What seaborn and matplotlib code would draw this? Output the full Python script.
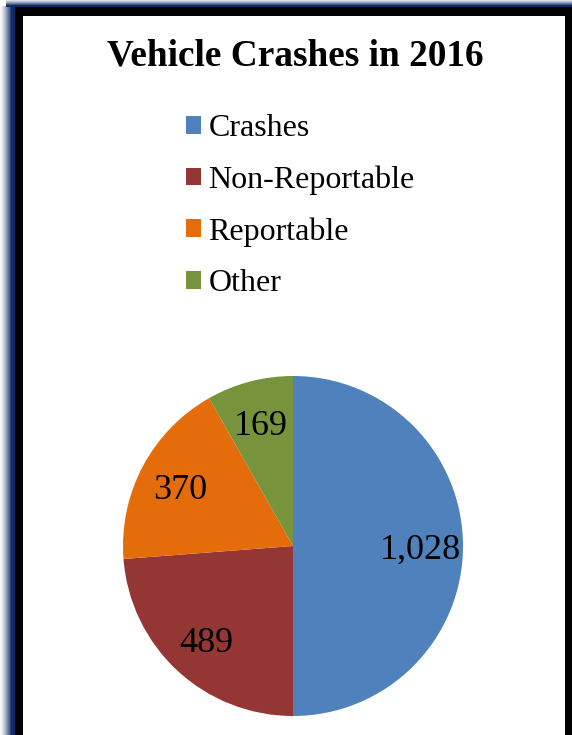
import numpy as np
import matplotlib
matplotlib.use('Agg')
import matplotlib.pyplot as plt
import seaborn as sns
from matplotlib.patches import Rectangle

categories = ['Crashes', 'Non-Reportable', 'Reportable', 'Other']
counts = [1028, 489, 370, 169]
colors = ['#4F81BD', '#943634', '#E46C0A', '#77933C']

sns.set_style('white')
plt.rcParams['font.family'] = ['Liberation Serif', 'DejaVu Serif']
plt.rcParams['text.color'] = 'black'

W, H = 572, 735
fig = plt.figure(figsize=(W / 100, H / 100), dpi=100)

def px_rect(x0, y0, x1, y1, **kw):
    # rectangle in pixel coords (origin top-left)
    r = Rectangle((x0 / W, 1 - y1 / H), (x1 - x0) / W, (y1 - y0) / H,
                  transform=fig.transFigure, edgecolor='none', zorder=0, **kw)
    fig.add_artist(r)

navy = '#0F2A66'
# soft navy glow on left and top edges
for i in range(13):
    px_rect(i, 6, i + 1, H + 5, facecolor=navy, alpha=min(1, (i + 1) / 12) ** 1.5)
for i in range(7):
    px_rect(6, i, W + 5, i + 1, facecolor=navy, alpha=min(1, (i + 2) / 7) ** 1.5)
px_rect(12, 6, W + 5, H + 5, facecolor=navy)
px_rect(15, 7, 572, H + 5, facecolor='black')
px_rect(23, 16, 565, H + 5, facecolor='white')

fig.text(295 / W, 1 - 56 / H, 'Vehicle Crashes in 2016', ha='center', va='center',
         fontsize=26.8, fontweight='bold')

# pie: center (293, 546), radius 170 px
cx, cy, r = 293, 546, 170
ax = fig.add_axes([(cx - r) / W, (H - cy - r) / H, 2 * r / W, 2 * r / H])
wedges, texts, autotexts = ax.pie(
    counts, colors=colors, startangle=90, counterclock=False,
    autopct=lambda p: f'{p * sum(counts) / 100:,.0f}', pctdistance=0.75,
    wedgeprops={'linewidth': 0},
    textprops={'fontsize': 26, 'color': 'black'})
for t in autotexts:
    t.set_va('center_baseline')
ax.set_xlim(-1, 1)
ax.set_ylim(-1, 1)
ax.set_aspect('equal')
ax.axis('off')

fig.legend(wedges, categories, loc='upper left',
           bbox_to_anchor=(170 / W, 1 - 98 / H), frameon=False,
           fontsize=23, handlelength=0.48, handleheight=0.48,
           handletextpad=0.22, labelspacing=0.7, borderpad=0,
           labelcolor='black')

fig.savefig('out.png', dpi=100)
